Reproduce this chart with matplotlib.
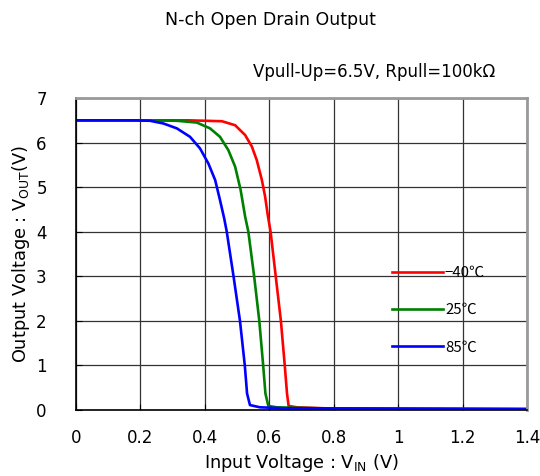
import matplotlib
matplotlib.use("Agg")
import matplotlib.pyplot as plt

plt.rcParams['font.family'] = ['DejaVu Sans', 'Noto Sans CJK JP']
plt.rcParams['mathtext.fontset'] = 'dejavusans'

# Curves
x_m40 = [0, 0.35, 0.453, 0.494, 0.525, 0.546, 0.561, 0.577, 0.587, 0.596, 0.604,
         0.620, 0.636, 0.648, 0.655, 0.660, 0.686, 0.8, 1.4]
y_m40 = [6.5, 6.5, 6.48, 6.39, 6.17, 5.91, 5.61, 5.16, 4.79, 4.34, 4.0,
         3.0, 2.0, 1.0, 0.37, 0.09, 0.06, 0.03, 0.02]

x_25 = [0, 0.25, 0.313, 0.375, 0.416, 0.447, 0.473, 0.494, 0.511, 0.525, 0.535,
        0.553, 0.569, 0.581, 0.588, 0.597, 0.623, 0.8, 1.4]
y_25 = [6.5, 6.5, 6.49, 6.45, 6.32, 6.13, 5.83, 5.46, 4.94, 4.34, 4.0,
        3.0, 2.0, 1.0, 0.37, 0.09, 0.06, 0.03, 0.02]

x_85 = [0, 0.18, 0.23, 0.271, 0.313, 0.354, 0.385, 0.411, 0.432, 0.447, 0.460,
        0.468, 0.489, 0.509, 0.524, 0.531, 0.540, 0.571, 0.643, 1.4]
y_85 = [6.5, 6.5, 6.49, 6.43, 6.32, 6.13, 5.87, 5.53, 5.16, 4.71, 4.30,
        4.0, 3.0, 2.0, 1.0, 0.37, 0.11, 0.06, 0.04, 0.02]

labels = ['\u221240\u2103', '25\u2103', '85\u2103']
colors = ['#ff0000', '#008000', '#0000ff']

fig = plt.figure(figsize=(5.4, 4.76), dpi=100)
ax = fig.add_axes([0.1407, 0.1387, 0.8353, 0.6553])

for xs, ys, lab, c in zip([x_m40, x_25, x_85], [y_m40, y_25, y_85], labels, colors):
    ax.plot(xs, ys, color=c, lw=1.9, label=lab, solid_joinstyle='round')

ax.set_xlim(0, 1.4)
ax.set_ylim(0, 7)
ax.set_xticks([0, 0.2, 0.4, 0.6, 0.8, 1, 1.2, 1.4])
ax.set_xticklabels(['0', '0.2', '0.4', '0.6', '0.8', '1', '1.2', '1.4'])
ax.set_yticks(range(8))
ax.grid(True, color='#333333', lw=0.9)
ax.tick_params(direction='in', length=4, labelsize=12, color='black')
ax.tick_params(axis='x', pad=14)
ax.tick_params(axis='y', pad=21)

for s in ['top', 'right']:
    ax.spines[s].set_color('#999999')
    ax.spines[s].set_linewidth(2)
for s in ['left', 'bottom']:
    ax.spines[s].set_color('black')
    ax.spines[s].set_linewidth(1.2)

ax.set_xlabel(r'Input Voltage : V$_{\mathrm{IN}}$ (V)', fontsize=12.8, labelpad=3)
ax.set_ylabel(r'Output Voltage : V$_{\mathrm{OUT}}$(V)', fontsize=12.8, labelpad=3)

leg = ax.legend(loc='upper left', bbox_to_anchor=(0.67, 0.505), frameon=False,
                prop={'family': ['Noto Sans CJK JP', 'DejaVu Sans'], 'size': 10.8},
                handlelength=3.4, handletextpad=0.15, labelspacing=1.55)

fig.text(0.5, 0.957, 'N-ch Open Drain Output', ha='center', va='center', fontsize=12.5)
fig.text(0.918, 0.848, 'Vpull-Up=6.5V, Rpull=100k\u03a9', ha='right', va='center', fontsize=12)

fig.savefig('out.png', dpi=100, facecolor='white')
